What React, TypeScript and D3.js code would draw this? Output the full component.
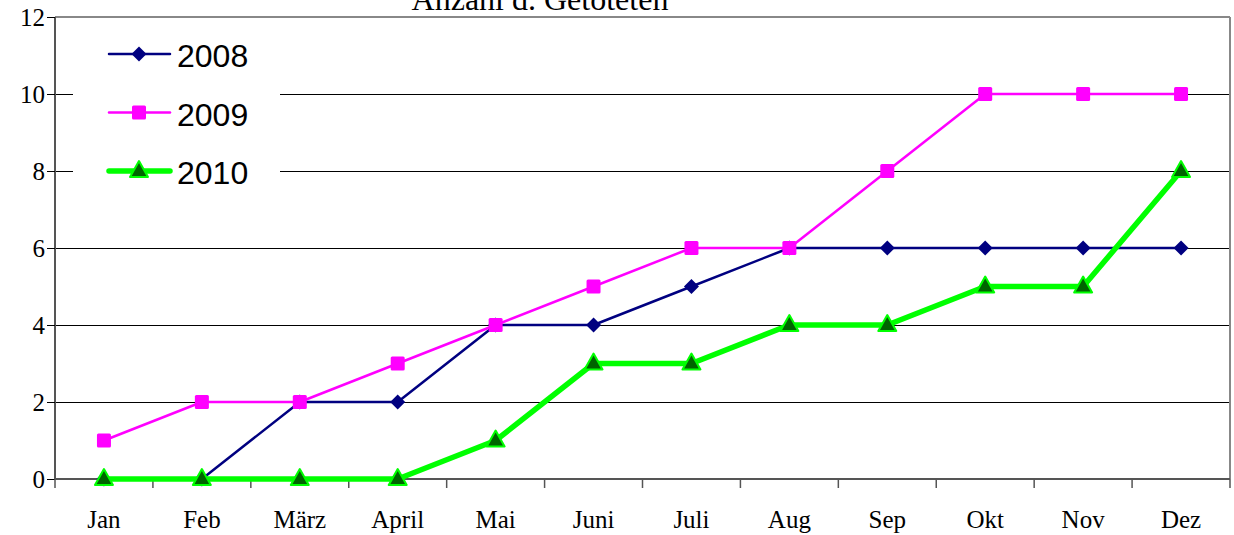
import React from "react";
import { scaleBand, scaleLinear, line } from "d3";

const months = ["Jan", "Feb", "März", "April", "Mai", "Juni", "Juli", "Aug", "Sep", "Okt", "Nov", "Dez"];
const values2008 = [0, 0, 2, 2, 4, 4, 5, 6, 6, 6, 6, 6];
const values2009 = [1, 2, 2, 3, 4, 5, 6, 6, 8, 10, 10, 10];
const values2010 = [0, 0, 0, 0, 1, 3, 3, 4, 4, 5, 5, 8];
const yTicks = [0, 2, 4, 6, 8, 10, 12];
const title = "Anzahl d. Getöteten";

const series = [
  { name: "2008", values: values2008, stroke: "#000080", width: 2.5, marker: "diamond", fill: "#000080" },
  { name: "2009", values: values2009, stroke: "#FF00FF", width: 2.5, marker: "square", fill: "#FF00FF" },
  { name: "2010", values: values2010, stroke: "#00FF00", width: 5.5, marker: "triangle", fill: "#006400" }
];

function Marker({ type, x, y, fill }: { type: string; x: number; y: number; fill: string }) {
  if (type === "diamond") {
    return <path d={`M${x},${y - 7.5}L${x + 7.5},${y}L${x},${y + 7.5}L${x - 7.5},${y}Z`} fill={fill} />;
  }
  if (type === "square") {
    return <rect x={x - 7} y={y - 7} width={14} height={14} rx={1.5} fill={fill} />;
  }
  return (
    <path
      d={`M${x},${y - 10}L${x + 9},${y + 6}L${x - 9},${y + 6}Z`}
      fill={fill}
      stroke="#00FF00"
      strokeWidth={2}
      strokeLinejoin="round"
    />
  );
}

export default function App() {
  const width = 1234,
    height = 535,
    left = 55,
    top = 17,
    right = 1230,
    bottom = 479;

  const x = scaleBand().domain(months).range([left, right]);
  const y = scaleLinear().domain([0, 12]).range([bottom, top]);
  const cx = (m: string) => (x(m) as number) + x.bandwidth() / 2;

  const path = line<number>()
    .x((_, i) => cx(months[i]))
    .y(d => y(d));

  return (
    <svg width={width} height={height} style={{ position: "absolute", left: 0, top: 0 }}>
      <rect width={width} height={height} fill="white" />
      {/* gridlines */}
      {yTicks.slice(1, -1).map(t => (
        <line
          key={t}
          x1={left}
          x2={right}
          y1={y(t) + 0.5}
          y2={y(t) + 0.5}
          stroke="#000"
          strokeWidth={1}
          shapeRendering="crispEdges"
        />
      ))}
      {/* plot border */}
      <line x1={left} x2={right} y1={top} y2={top} stroke="#888" strokeWidth={2} />
      <line x1={right} x2={right} y1={top} y2={bottom} stroke="#888" strokeWidth={2} />
      <line x1={left} x2={left} y1={top} y2={bottom} stroke="#555" strokeWidth={2} />
      <line x1={left} x2={right} y1={bottom} y2={bottom} stroke="#555" strokeWidth={2} />
      {/* y ticks */}
      {yTicks.map(t => (
        <g key={t}>
          <line
            x1={left - 8}
            x2={left}
            y1={y(t) + 0.5}
            y2={y(t) + 0.5}
            stroke="#000"
            strokeWidth={1}
            shapeRendering="crispEdges"
          />
          <text
            x={45}
            y={y(t)}
            dy="0.35em"
            textAnchor="end"
            fontFamily="Liberation Serif"
            fontSize={25}
            fill="#000"
          >
            {t}
          </text>
        </g>
      ))}
      {/* x ticks */}
      {months.map(m => (
        <line
          key={m}
          x1={x(m) as number}
          x2={x(m) as number}
          y1={bottom}
          y2={bottom + 9}
          stroke="#555"
          strokeWidth={1.5}
        />
      ))}
      <line x1={right} x2={right} y1={bottom} y2={bottom + 9} stroke="#555" strokeWidth={1.5} />
      {months.map(m => (
        <text
          key={m}
          x={cx(m)}
          y={528}
          textAnchor="middle"
          fontFamily="Liberation Serif"
          fontSize={25}
          fill="#000"
        >
          {m}
        </text>
      ))}
      {/* title, cut off at the top as in the original */}
      <text x={540} y={10} textAnchor="middle" fontFamily="Liberation Serif" fontSize={32} fill="#000">
        {title}
      </text>
      {/* series */}
      {series.map(s => (
        <g key={s.name}>
          <path d={path(s.values) || ""} fill="none" stroke={s.stroke} strokeWidth={s.width} strokeLinejoin="round" />
          {s.values.map((v, i) => (
            <Marker key={i} type={s.marker} x={cx(months[i])} y={y(v)} fill={s.fill} />
          ))}
        </g>
      ))}
      {/* legend */}
      <rect x={73} y={28} width={207} height={168} fill="white" />
      {series.map((s, i) => {
        const ly = 54 + i * 58.5;
        return (
          <g key={s.name}>
            <line x1={109} x2={170} y1={ly} y2={ly} stroke={s.stroke} strokeWidth={s.width} strokeLinecap="round" />
            <Marker type={s.marker} x={139} y={ly} fill={s.fill} />
            <text x={177} y={ly + 13} fontFamily="Liberation Sans" fontSize={32} fill="#000">
              {s.name}
            </text>
          </g>
        );
      })}
    </svg>
  );
}
